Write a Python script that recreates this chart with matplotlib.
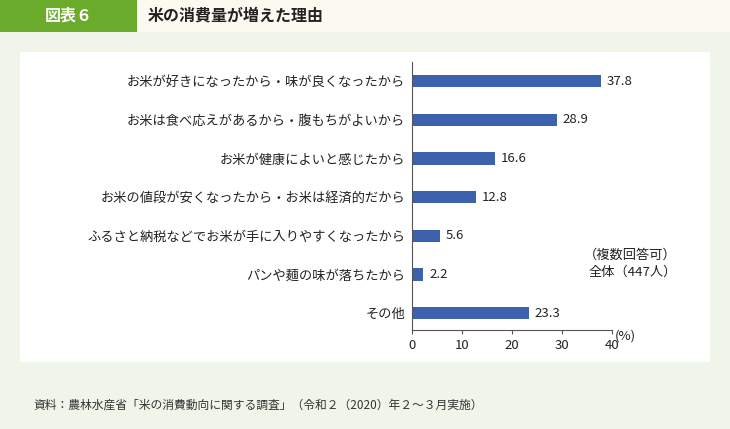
import matplotlib.pyplot as plt
from matplotlib.patches import Rectangle

plt.rcParams["font.family"] = "Noto Sans CJK JP"

reasons = [
    "お米が好きになったから・味が良くなったから",
    "お米は食べ応えがあるから・腹もちがよいから",
    "お米が健康によいと感じたから",
    "お米の値段が安くなったから・お米は経済的だから",
    "ふるさと納税などでお米が手に入りやすくなったから",
    "パンや麺の味が落ちたから",
    "その他",
]
values = [37.8, 28.9, 16.6, 12.8, 5.6, 2.2, 23.3]
xticks = [0, 10, 20, 30, 40]

W, H = 730, 429
fig = plt.figure(figsize=(W / 100, H / 100), dpi=100)
fig.patch.set_facecolor("#eff5e9")

def px(x, y, w, h):
    return (x / W, 1 - (y + h) / H, w / W, h / H)

# header band
fig.patches.append(Rectangle(px(0, 0, W, 32)[:2], 1, 32 / H, transform=fig.transFigure,
                             facecolor="#fcf9f1", edgecolor="none", zorder=-2))
fig.patches.append(Rectangle(px(0, 0, 137, 32)[:2], 137 / W, 32 / H, transform=fig.transFigure,
                             facecolor="#6aab2c", edgecolor="none", zorder=-1))
fig.text(45 / W, 1 - 16 / H, "図表６", color="white", fontsize=11.5, fontweight="bold",
         va="center", ha="left")
fig.text(148 / W, 1 - 16 / H, "米の消費量が増えた理由", color="#222222", fontsize=11.5,
         fontweight="bold", va="center", ha="left")

# white panel
fig.patches.append(Rectangle(px(20, 52, 690, 310)[:2], 690 / W, 310 / H, transform=fig.transFigure,
                             facecolor="white", edgecolor="none", zorder=-2))

ax = fig.add_axes(px(412, 62, 200, 268))
ax.set_zorder(5)
ax.set_facecolor("none")
y = range(len(values))
ax.barh(y, values, height=0.32, color="#3c62ad")
for i, v in enumerate(values):
    ax.text(v + 1.2, i, f"{v}", va="center", ha="left", fontsize=9.5, color="#222222")
ax.set_xlim(0, 40)
ax.set_ylim(6.44, -0.5)
ax.set_yticks(list(y))
ax.set_yticklabels(reasons, fontsize=9.5, color="#222222")
ax.set_xticks(xticks)
ax.set_xticklabels([str(t) for t in xticks], fontsize=9.5, color="#222222")
ax.tick_params(axis="y", length=0, pad=5)
ax.tick_params(axis="x", length=3, color="#555555")
for s in ["top", "right"]:
    ax.spines[s].set_visible(False)
ax.spines["left"].set_color("#555555")
ax.spines["bottom"].set_color("#555555")
ax.text(40.6, 6.44, "(%)", transform=ax.transData, va="top", ha="left", fontsize=9.5,
        color="#222222")
fig.text(677 / W, 1 - 264 / H, "（複数回答可）\n全体（447人）",
         ha="right", va="center", fontsize=9.5, color="#222222", linespacing=1.4)

fig.text(33 / W, 1 - 405 / H,
         "資料：農林水産省「米の消費動向に関する調査」（令和２（2020）年２～３月実施）",
         fontsize=8.5, color="#333333", va="center", ha="left")

fig.savefig("out.png", dpi=100, facecolor=fig.get_facecolor())
